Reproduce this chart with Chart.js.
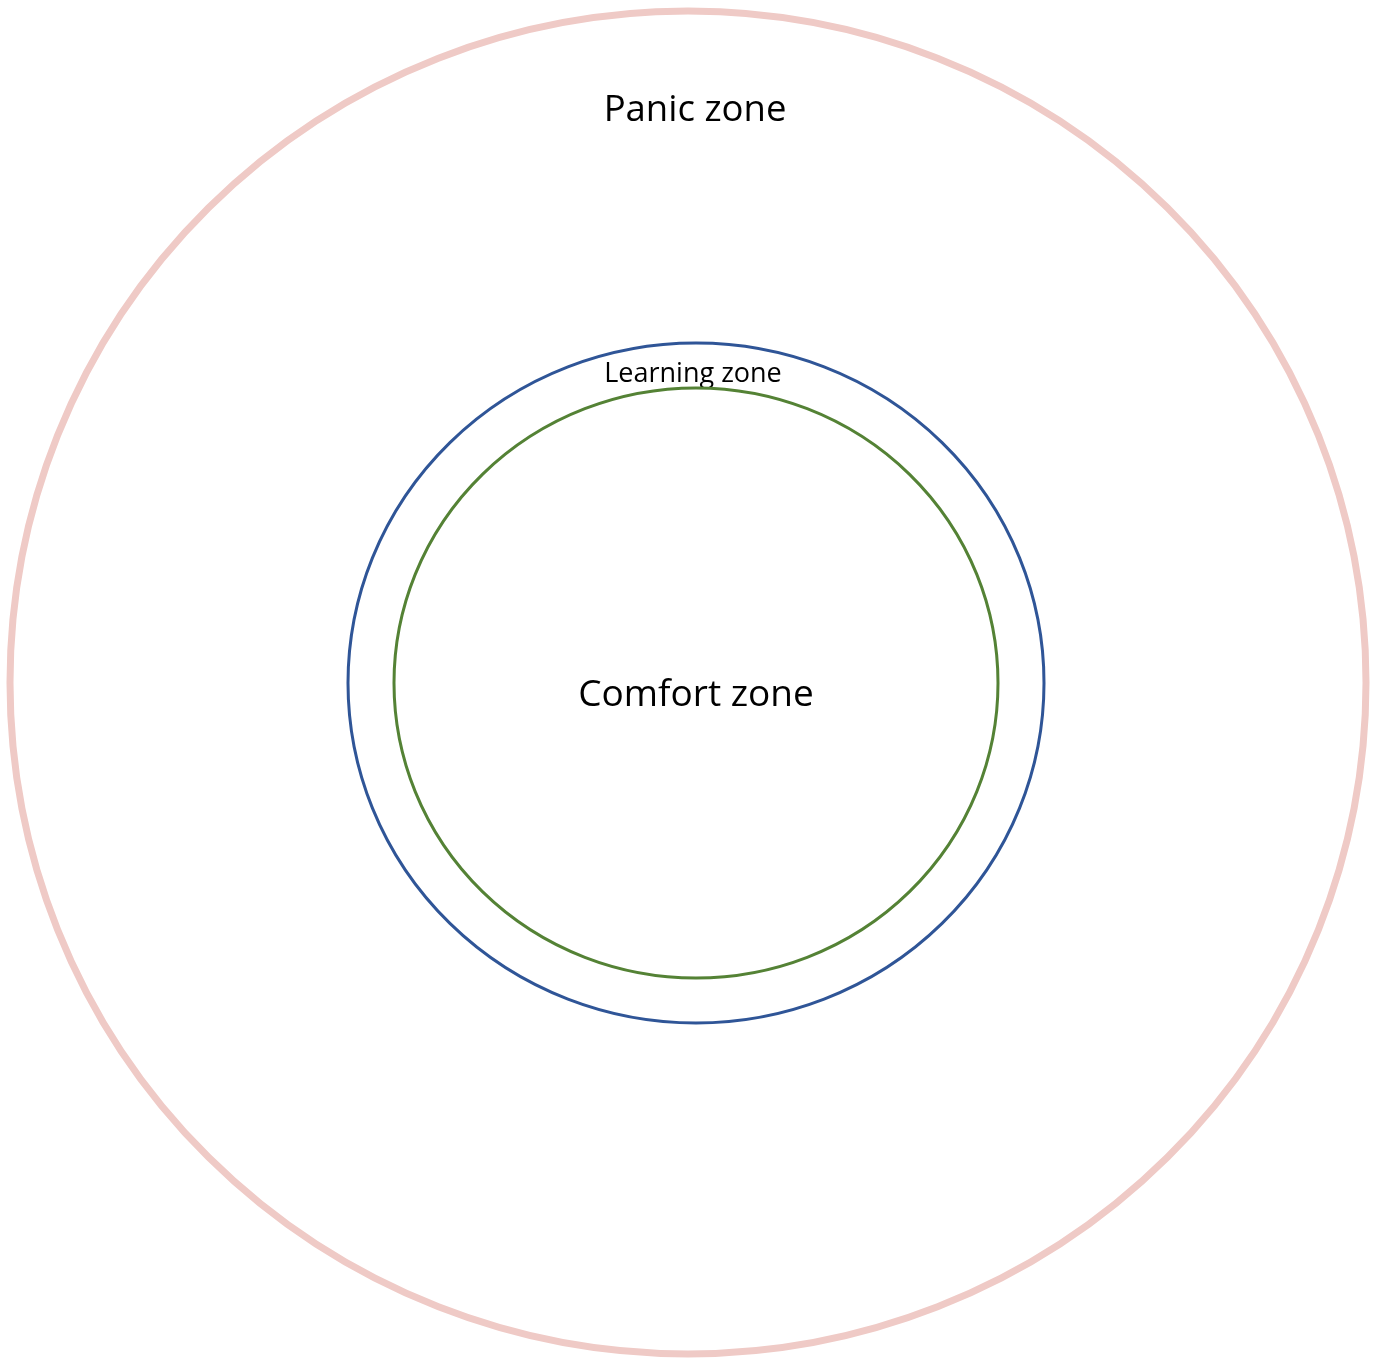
<!DOCTYPE html>
<html>
<head>
<meta charset="utf-8">
<title>Comfort zone</title>
<script src="https://cdn.jsdelivr.net/npm/chart.js@4/dist/chart.umd.min.js"></script>
<style>
  html, body { margin: 0; padding: 0; background: #ffffff; }
  canvas { display: block; }
</style>
</head>
<body>
<canvas id="zoneChart" width="1375" height="1361"></canvas>
<script>
// zones, outermost first (units = picture pixels on the hidden axes)
const zones = ['Panic zone', 'Learning zone', 'Comfort zone'];
const centerX = [688, 696, 696];
const centerY = [682.5, 683, 683];
const radiusX = [678, 348, 302];
const radiusY = [671.5, 340, 295];
const labelX = [695, 693, 696];
const labelY = [121, 382, 706];

const ringColors = ['#efcac6', '#2f5597', '#548235'];
const ringWidths = [7, 3, 3];
const labelSizes = [36.5, 27, 37];

// draws each zone as an ellipse around its centre point, sized through the scales
const ringPlugin = {
  id: 'rings',
  afterDatasetsDraw(chart) {
    const ctx = chart.ctx;
    const xs = chart.scales.x;
    const ys = chart.scales.y;
    chart.data.datasets.forEach((ds, i) => {
      const cx = xs.getPixelForValue(centerX[i]);
      const cy = ys.getPixelForValue(centerY[i]);
      const rx = Math.abs(xs.getPixelForValue(centerX[i] + radiusX[i]) - cx);
      const ry = Math.abs(ys.getPixelForValue(centerY[i] + radiusY[i]) - cy);
      ctx.save();
      ctx.beginPath();
      ctx.ellipse(cx, cy, rx, ry, 0, 0, Math.PI * 2);
      ctx.strokeStyle = ringColors[i];
      ctx.lineWidth = ringWidths[i];
      ctx.stroke();
      ctx.restore();

      ctx.save();
      ctx.font = labelSizes[i] + 'px "Open Sans"';
      ctx.fillStyle = '#000000';
      ctx.textAlign = 'center';
      ctx.textBaseline = 'alphabetic';
      ctx.fillText(ds.label, xs.getPixelForValue(labelX[i]), ys.getPixelForValue(labelY[i]));
      ctx.restore();
    });
  }
};

const ctx = document.getElementById('zoneChart').getContext('2d');
new Chart(ctx, {
  type: 'scatter',
  data: {
    datasets: zones.map((name, i) => ({
      label: name,
      data: [{ x: centerX[i], y: centerY[i] }],
      pointRadius: 0,
      borderColor: ringColors[i],
      backgroundColor: ringColors[i]
    }))
  },
  options: {
    responsive: false,
    animation: false,
    devicePixelRatio: 1,
    layout: { padding: 0 },
    plugins: {
      legend: { display: false },
      tooltip: { enabled: false }
    },
    scales: {
      x: { type: 'linear', min: 0, max: 1375, display: false },
      y: { type: 'linear', min: 0, max: 1361, reverse: true, display: false }
    }
  },
  plugins: [ringPlugin]
});
</script>
</body>
</html>
